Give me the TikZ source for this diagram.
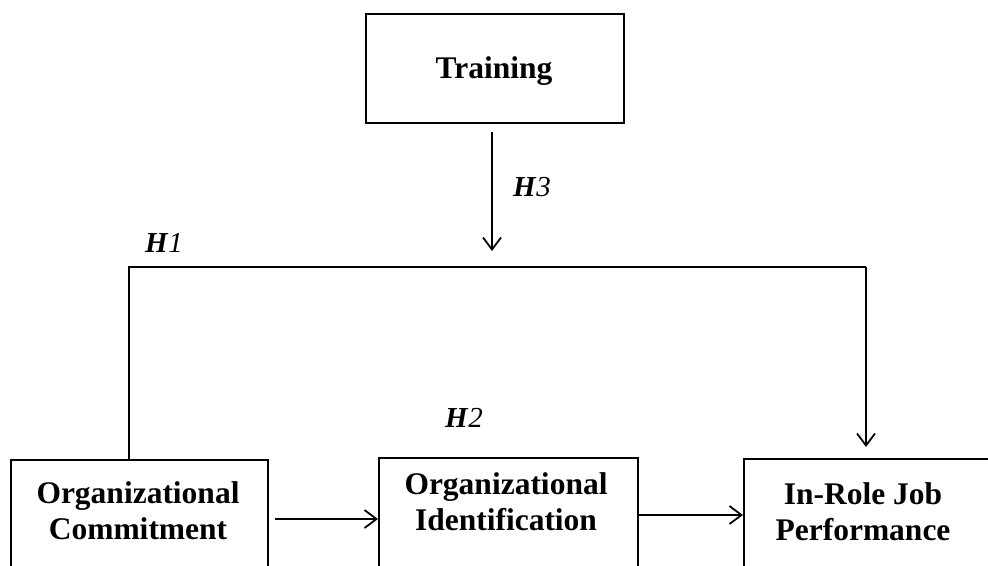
\documentclass[tikz,border=0pt]{standalone}
\usepackage{fontspec}
\setmainfont{Liberation Serif}
\usetikzlibrary{arrows.meta}
\begin{document}
\begin{tikzpicture}[x=1pt,y=1pt,
  box/.style={draw, line width=1.8pt, inner sep=0pt, anchor=north west},
  txt/.style={font=\fontsize{31.5}{36}\selectfont\bfseries, align=center, inner sep=0pt},
  hyp/.style={font=\fontsize{29}{33}\selectfont, inner sep=0pt, anchor=west},
  conn/.style={line width=1.8pt},
  arr/.style={line width=1.8pt, -{Straight Barb[length=12pt,width=18pt,line width=1.8pt]}}]
\useasboundingbox (0,0) rectangle (988,-565);
\clip (0,0) rectangle (988,-565);
% boxes
\node[box, minimum width=258, minimum height=109] (tr) at (365,-13) {};
\node[box, minimum width=257, minimum height=140] (oc) at (10,-459) {};
\node[box, minimum width=259, minimum height=140] (oi) at (378,-457) {};
\node[box, minimum width=260, minimum height=140] (ip) at (743,-458) {};
% texts
\node[txt] (trt) at (494,-71) {Training};
\node[txt] (oct) at (138,-511) {Organizational\\Commitment};
\node[txt] (oit) at (506,-502) {Organizational\\Identification};
\node[txt] (ipt) at (863,-512) {In-Role Job\\Performance};
% hypothesis labels
\node[hyp] (h1) at (145,-243) {\textbf{\textit{H}}\textit{1}};
\node[hyp] (h2) at (445,-418) {\textbf{\textit{H}}\textit{2}};
\node[hyp] (h3) at (513,-187) {\textbf{\textit{H}}\textit{3}};
% coordinates
\coordinate (tl) at (129,-267);
\coordinate (trc) at (866,-267);
\coordinate (mod) at (492,-267);
% connectors
\draw[conn] (oc.north -| tl) -- (tl) -- (trc);
\draw[arr] (trc) -- ([yshift=11pt]ip.north -| trc);
\draw[arr] ([yshift=-8pt]tr.south -| mod) -- ([yshift=16pt]mod);
\draw[arr] ([xshift=6pt,yshift=-60pt]oc.north east) -- ([yshift=-60pt]oc.north east -| oi.west);
\draw[arr] ([yshift=-58pt]oi.north east) -- ([yshift=-58pt]oi.north east -| ip.west);
\end{tikzpicture}
\end{document}
